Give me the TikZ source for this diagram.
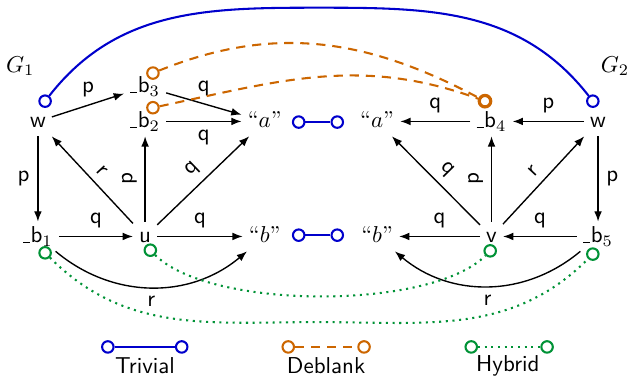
\documentclass[tikz,border=0pt]{standalone}
\usepackage{amsmath}
\usetikzlibrary{arrows.meta}
\definecolor{trivblue}{RGB}{0,0,204}
\definecolor{deborange}{RGB}{204,102,0}
\definecolor{hybgreen}{RGB}{0,146,54}
\newcommand{\blnk}[1]{\rule[-0.2pt]{0.3em}{0.5pt}\kern0.3pt b$_{#1}$}

\begin{document}
\begin{tikzpicture}[font=\sffamily, >={Latex[length=4.5pt,width=3.4pt]},
  lbl/.style={text height=1.5ex, text depth=.25ex, inner sep=2.5pt},
  hdl/.style={circle, draw=#1, line width=0.9pt, minimum size=5pt, inner sep=0pt},
  arr/.style={->, line width=0.6pt},
  trivial/.style={trivblue, line width=0.9pt},
  deblank/.style={deborange, line width=0.9pt, dash pattern=on 4pt off 3pt},
  hybrid/.style={hybgreen, line width=0.9pt, dotted}]
  \useasboundingbox (0,0) rectangle (9.654,5.768);
  % graph G1
  \node at (0.31,4.76) {$G_1$};
  \node[lbl] (wl) at (0.58,3.91) {w};
  \node[lbl] (b3) at (2.22,4.44) {\blnk{3}};
  \node[lbl] (b2) at (2.22,3.91) {\blnk{2}};
  \node[lbl] (al) at (4.05,3.91) {\rmfamily\textquotedblleft$a$\textquotedblright};
  \node[lbl] (b1) at (0.58,2.15) {\blnk{1}};
  \node[lbl] (u) at (2.22,2.15) {u};
  \node[lbl] (bl) at (4.05,2.15) {\rmfamily\textquotedblleft$b$\textquotedblright};
  \draw[arr] (wl) -- node[above] {p} (b3);
  \draw[arr] (b3) -- node[above] {q} (al);
  \draw[arr] (b2) -- node[below] {q} (al);
  \draw[arr] (wl) -- node[left] {p} (b1);
  \draw[arr] (u) -- node[sloped,above] {r} (wl);
  \draw[arr] (u) -- node[sloped,above] {p} (b2);
  \draw[arr] (u) -- node[sloped,above] {q} (al);
  \draw[arr] (b1) -- node[above] {q} (u);
  \draw[arr] (u) -- node[above] {q} (bl);
  \draw[arr] (b1) to[bend right=40] node[below] {r} (bl);
  % graph G2
  \node at (9.41,4.76) {$G_2$};
  \node[lbl] (wr) at (9.15,3.91) {w};
  \node[lbl] (b4) at (7.52,3.91) {\blnk{4}};
  \node[lbl] (ar) at (5.77,3.91) {\rmfamily\textquotedblleft$a$\textquotedblright};
  \node[lbl] (b5) at (9.15,2.15) {\blnk{5}};
  \node[lbl] (v) at (7.52,2.15) {v};
  \node[lbl] (br) at (5.77,2.15) {\rmfamily\textquotedblleft$b$\textquotedblright};
  \draw[arr] (wr) -- node[above] {p} (b4);
  \draw[arr] (b4) -- node[above] {q} (ar);
  \draw[arr] (wr) -- node[right] {p} (b5);
  \draw[arr] (v) -- node[sloped,above] {q} (ar);
  \draw[arr] (v) -- node[sloped,above] {p} (b4);
  \draw[arr] (v) -- node[sloped,above] {r} (wr);
  \draw[arr] (b5) -- node[above] {q} (v);
  \draw[arr] (v) -- node[above] {q} (br);
  \draw[arr] (b5) to[bend left=40] node[below] {r} (br);
  % alignment handles
  \node[hdl=trivblue] (hwl) at (0.69,4.22) {};
  \node[hdl=trivblue] (hwr) at (9.07,4.22) {};
  \node[hdl=trivblue] (hal) at (4.57,3.90) {};
  \node[hdl=trivblue] (har) at (5.16,3.90) {};
  \node[hdl=trivblue] (hbl) at (4.57,2.17) {};
  \node[hdl=trivblue] (hbr) at (5.16,2.17) {};
  \node[hdl=deborange] (hb3) at (2.34,4.65) {};
  \node[hdl=deborange] (hb2) at (2.34,4.12) {};
  \node[hdl=deborange, line width=1.4pt] (hb4) at (7.42,4.22) {};
  \node[hdl=hybgreen] (hb1) at (0.69,1.90) {};
  \node[hdl=hybgreen] (hu) at (2.30,1.94) {};
  \node[hdl=hybgreen] (hv) at (7.50,1.93) {};
  \node[hdl=hybgreen] (hb5) at (9.07,1.88) {};
  \coordinate (top) at (4.87,5.65);
  \coordinate (bot) at (4.87,0.84);
  \draw[trivial] (hwl) to[out=52,in=180] (top) to[out=0,in=128] (hwr);
  \draw[trivial] (hal) -- (har);
  \draw[trivial] (hbl) -- (hbr);
  \draw[deblank] (hb3) to[out=22,in=152] (hb4);
  \draw[deblank] (hb2) to[out=12,in=160] (hb4);
  \draw[hybrid] (hu) to[out=-45,in=-135,looseness=0.6] (hv);
  \draw[hybrid] (hb1) to[out=-45,in=180] (bot) to[out=0,in=-135] (hb5);
  % legend
  \node[hdl=trivblue] (lt1) at (1.65,0.46) {};
  \node[hdl=trivblue] (lt2) at (2.78,0.46) {};
  \draw[trivial] (lt1) -- (lt2);
  \node (lt) at (2.22,0.17) {Trivial};
  \node[hdl=deborange] (ld1) at (4.41,0.46) {};
  \node[hdl=deborange] (ld2) at (5.57,0.46) {};
  \draw[deblank] (ld1) -- (ld2);
  \node (ld) at (4.99,0.17) {Deblank};
  \node[hdl=hybgreen] (lh1) at (7.21,0.46) {};
  \node[hdl=hybgreen] (lh2) at (8.37,0.46) {};
  \draw[hybrid] (lh1) -- (lh2);
  \node (lh) at (7.77,0.17) {Hybrid};
\end{tikzpicture}
\end{document}
